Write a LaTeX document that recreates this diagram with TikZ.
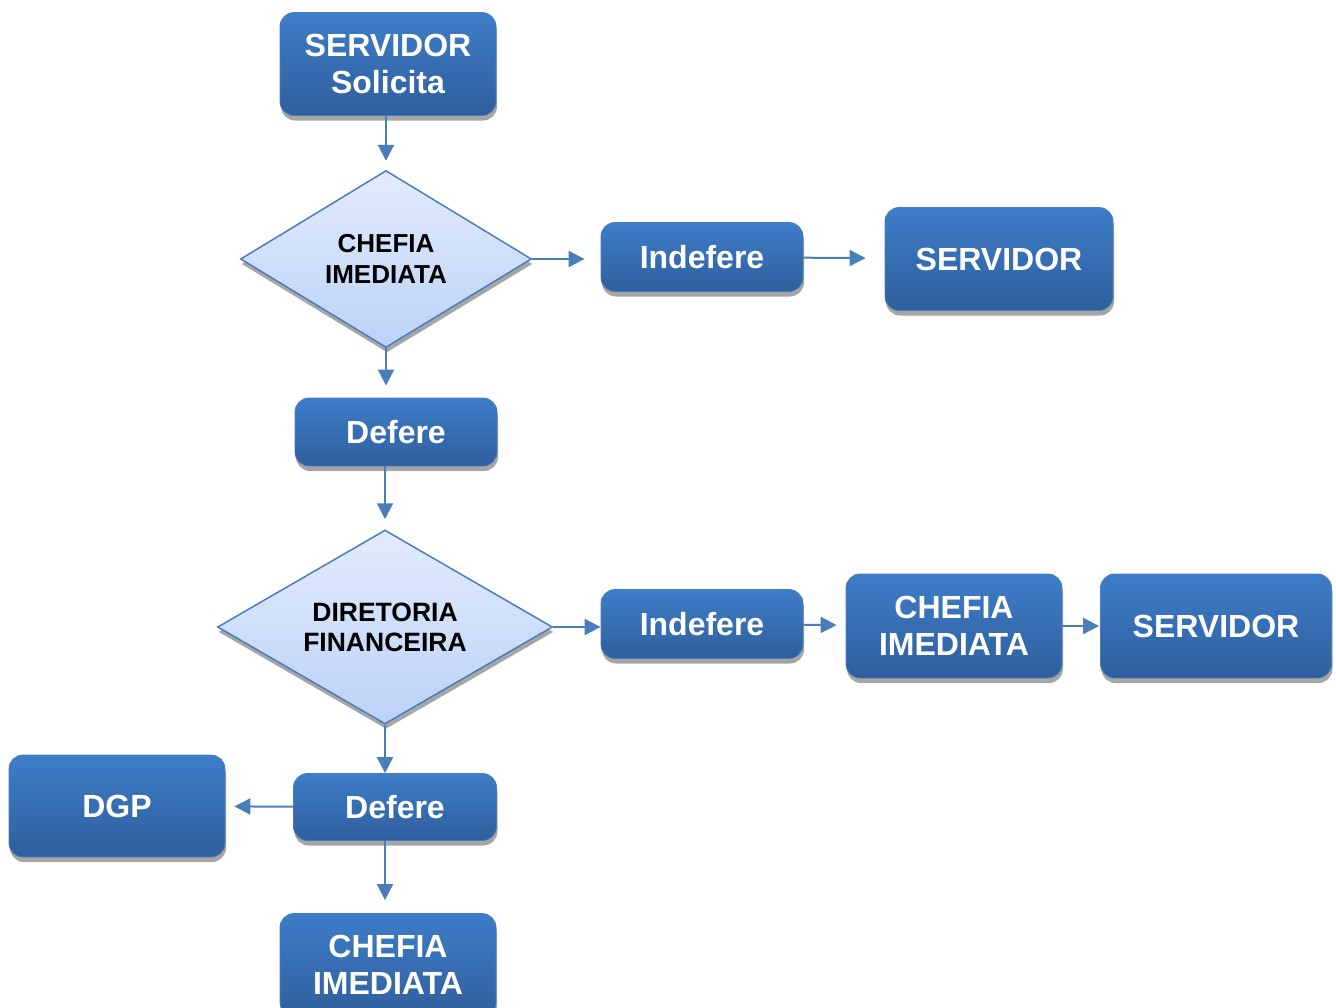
\documentclass[tikz,border=0pt]{standalone}
\usepackage{fontspec}
\setmainfont{Liberation Sans}
\usetikzlibrary{arrows.meta, shapes.geometric, shadows}

\definecolor{linha}{RGB}{74,126,187}
\definecolor{caixaTopo}{RGB}{62,125,200}
\definecolor{caixaBase}{RGB}{47,95,157}
\definecolor{losTopo}{RGB}{226,235,251}
\definecolor{losBase}{RGB}{188,210,248}

\tikzset{
  caixa/.style={rectangle, rounded corners=14pt, top color=caixaTopo, bottom color=caixaBase,
    draw=linha, line width=0.8pt, text=white, align=center, inner sep=0pt,
    font=\fontsize{32}{37}\selectfont\bfseries,
    drop shadow={shadow xshift=1pt, shadow yshift=-5pt, fill=black!35, opacity=1}},
  losango/.style={diamond, top color=losTopo, bottom color=losBase, draw=linha,
    line width=1.5pt, align=center, inner sep=0pt,
    font=\fontsize{26}{31}\selectfont\bfseries,
    drop shadow={shadow xshift=1pt, shadow yshift=-5pt, fill=black!35, opacity=1}},
  seta/.style={draw=linha, line width=2pt, -{Triangle[length=16pt,width=16pt]}, shorten >=9pt},
}

\begin{document}
\begin{tikzpicture}[x=1pt, y=-1pt]
    \useasboundingbox (0,0) rectangle (1336,1007);

    % --- 1. Solicitação e chefia imediata ---
    \node[caixa, minimum width=216pt, minimum height=103pt] (solicita) at (388,64) {SERVIDOR\\Solicita};
    \node[losango, shape aspect=1.64, minimum width=291pt, minimum height=177pt] (chefia) at (386,259) {CHEFIA\\IMEDIATA};
    \node[caixa, minimum width=202pt, minimum height=69pt] (indefA) at (702,257) {Indefere};
    \node[caixa, minimum width=228pt, minimum height=103pt] (servA) at (999,259) {SERVIDOR};
    \node[caixa, minimum width=202pt, minimum height=68pt] (deferA) at (396,432) {Defere};

    % --- 2. Diretoria financeira ---
    \node[losango, shape aspect=1.73, minimum width=335pt, minimum height=194pt,
          font=\fontsize{26.5}{30}\selectfont\bfseries] (diretoria) at (385,627) {DIRETORIA\\FINANCEIRA};
    \node[caixa, minimum width=202pt, minimum height=69pt] (indefB) at (702,624) {Indefere};
    \node[caixa, minimum width=216pt, minimum height=104pt] (chefiaB) at (954,626) {CHEFIA\\IMEDIATA};
    \node[caixa, minimum width=231pt, minimum height=104pt] (servB) at (1216,626) {SERVIDOR};

    % --- 3. Deferimento final ---
    \node[caixa, minimum width=203pt, minimum height=67pt] (deferB) at (395,807) {Defere};
    \node[caixa, minimum width=216pt, minimum height=102pt] (dgp) at (117,806) {DGP};
    \node[caixa, minimum width=216pt, minimum height=103pt] (chefiaC) at (388,965) {CHEFIA\\IMEDIATA};

    % --- 4. Setas ---
    \draw[seta] (solicita.south -| chefia.north) -- (chefia.north);
    \draw[seta, shorten >=16pt] (chefia.east) -- (chefia.east -| indefA.west);
    \draw[seta, shorten >=19pt] (indefA) -- (servA);
    \draw[seta, shorten >=12pt] (chefia.south) -- (chefia.south |- deferA.north);
    \draw[seta, shorten >=10pt] (deferA.south -| diretoria.north) -- (diretoria.north);
    \draw[seta, shorten >=0pt] (diretoria.east) -- (diretoria.east -| indefB.west);
    \draw[seta] (indefB) -- (chefiaB);
    \draw[seta, shorten >=1pt] (chefiaB) -- (servB);
    \draw[seta, shorten >=0pt] (diretoria.south) -- (diretoria.south |- deferB.north);
    \draw[seta] (deferB) -- (dgp);
    \draw[seta, shorten >=13pt] (deferB.south -| diretoria.south) -- (diretoria.south |- chefiaC.north);

\end{tikzpicture}
\end{document}
